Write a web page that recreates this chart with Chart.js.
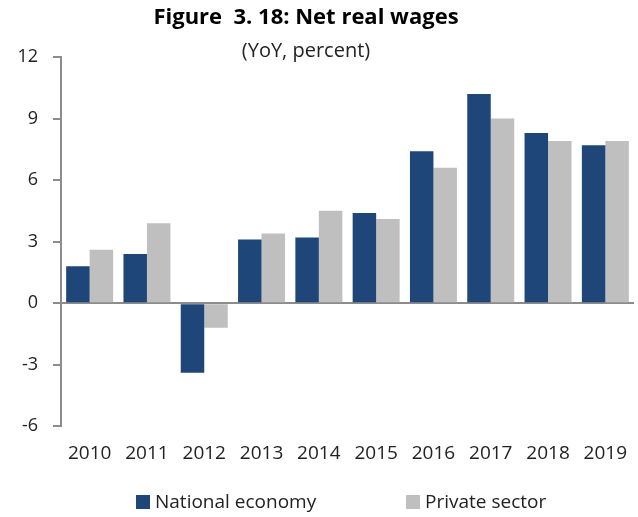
<!DOCTYPE html>
<html>
<head>
<meta charset="utf-8">
<script src="https://cdn.jsdelivr.net/npm/chart.js@4/dist/chart.umd.min.js"></script>
<style>
  html, body { margin: 0; padding: 0; background: #fff; }
  #wrap { width: 638px; height: 517px; }
</style>
</head>
<body>
<div id="wrap"><canvas id="wages"></canvas></div>
<script>
// Net real wages, YoY %
const years = ['2010', '2011', '2012', '2013', '2014', '2015', '2016', '2017', '2018', '2019'];
const nationalEconomy = [1.8, 2.4, -3.4, 3.1, 3.2, 4.4, 7.4, 10.2, 8.3, 7.7];
const privateSector = [2.6, 3.9, -1.2, 3.4, 4.5, 4.1, 6.6, 9.0, 7.9, 7.9];
const yTicks = [-6, -3, 0, 3, 6, 9, 12];

const axisGrey = '#8c8c8c';
const textFont = '"Open Sans", "Noto Sans", sans-serif';

// title, subtitle and the key row are drawn by hand so they can sit off-centre
const headerAndKey = {
  id: 'headerAndKey',
  afterDraw(chart) {
    const ctx = chart.ctx;
    ctx.save();
    ctx.fillStyle = '#000';
    ctx.textAlign = 'center';
    ctx.textBaseline = 'middle';
    ctx.font = 'bold 22px ' + textFont;
    ctx.fillText('Figure  3. 18: Net real wages', 306, 18);
    ctx.fillStyle = '#222';
    ctx.font = '20px ' + textFont;
    ctx.fillText('(YoY, percent)', 306, 51);

    const keyX = [136, 406];
    ctx.textAlign = 'left';
    ctx.font = '19px ' + textFont;
    chart.data.datasets.forEach((ds, i) => {
      ctx.fillStyle = ds.backgroundColor;
      ctx.fillRect(keyX[i], 495, 14, 14);
      ctx.fillStyle = '#222';
      ctx.fillText(ds.label, keyX[i] + 19, 503);
    });
    ctx.restore();
  }
};

function drawChart() {
  new Chart(document.getElementById('wages'), {
    type: 'bar',
    data: {
      labels: years,
      datasets: [
        { label: 'National economy', data: nationalEconomy, backgroundColor: '#1f4679' },
        { label: 'Private sector', data: privateSector, backgroundColor: '#bfbfbf' }
      ]
    },
    options: {
      responsive: true,
      maintainAspectRatio: false,
      animation: false,
      categoryPercentage: 0.82,
      barPercentage: 1.0,
      layout: { padding: { top: 57, right: 4, bottom: 44, left: 10 } },
      plugins: {
        legend: { display: false },
        title: { display: false },
        tooltip: { enabled: false }
      },
      scales: {
        x: {
          grid: { display: false },
          border: { display: false },
          ticks: { color: '#222', font: { family: textFont, size: 19 }, padding: 8, maxRotation: 0 }
        },
        y: {
          min: -6,
          max: 12,
          afterBuildTicks: (scale) => { scale.ticks = yTicks.map(v => ({ value: v })); },
          afterFit: (scale) => { scale.width = 51; },
          border: { display: true, color: axisGrey, width: 2 },
          grid: {
            color: (c) => (c.tick && c.tick.value === 0 ? axisGrey : 'rgba(0,0,0,0)'),
            lineWidth: 2,
            tickColor: axisGrey,
            tickLength: 8
          },
          ticks: { color: '#222', font: { family: textFont, size: 18 }, padding: 15 }
        }
      }
    },
    plugins: [headerAndKey]
  });
}

Promise.all([
  document.fonts.load('18px "Open Sans"'),
  document.fonts.load('bold 22px "Open Sans"')
]).then(drawChart, drawChart);
</script>
</body>
</html>
